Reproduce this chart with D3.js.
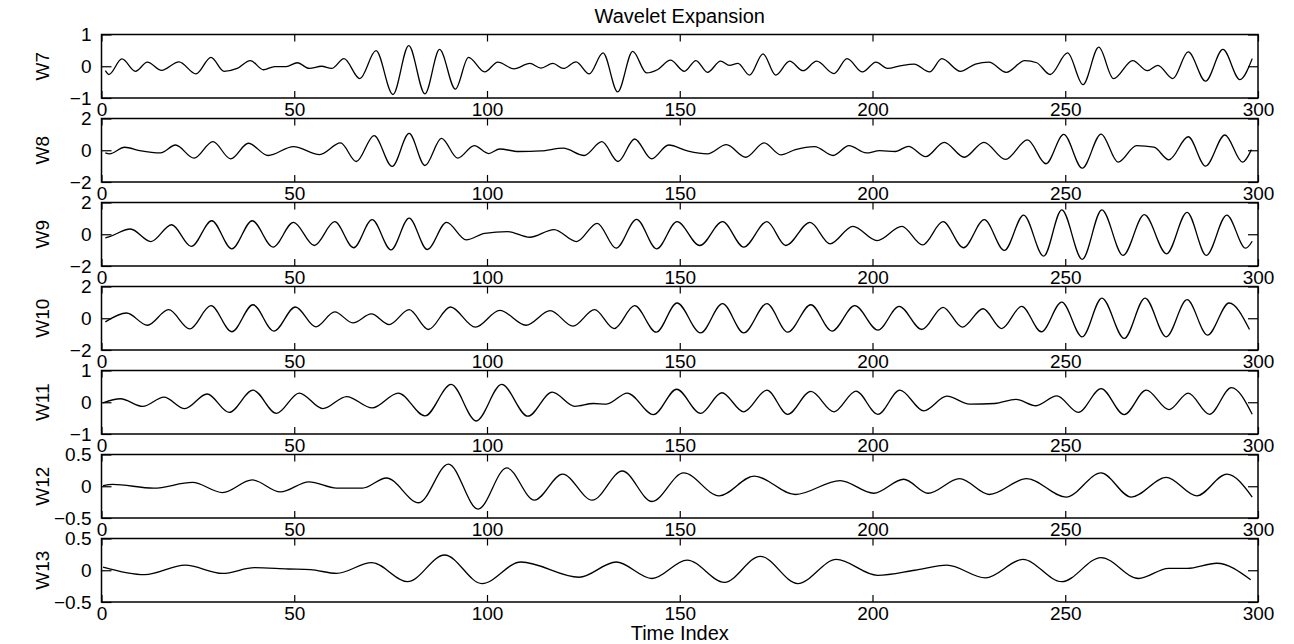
<!DOCTYPE html>
<html><head><meta charset="utf-8">
<script src="https://cdn.jsdelivr.net/npm/d3@7"></script>
<style>
body{margin:0;background:#fff}
svg{display:block}
text{font-family:"Liberation Sans",Arial,Helvetica,sans-serif;fill:#000}
</style>
</head><body>
<svg id="c" width="1294" height="644"></svg>
<script>
// ---------- data ----------
const titleText = "Wavelet Expansion";
const xLabelText = "Time Index";
const xTickVals = [0, 50, 100, 150, 200, 250, 300];
const panelNames = ["W7", "W8", "W9", "W10", "W11", "W12", "W13"];
const yDomains = [[-1, 1], [-2, 2], [-2, 2], [-2, 2], [-1, 1], [-0.5, 0.5], [-0.5, 0.5]];
const yTickVals = [[-1, 0, 1], [-2, 0, 2], [-2, 0, 2], [-2, 0, 2], [-1, 0, 1], [-0.5, 0, 0.5], [-0.5, 0, 0.5]];
const yTickLabels = [["−1", "0", "1"], ["−2", "0", "2"], ["−2", "0", "2"], ["−2", "0", "2"], ["−1", "0", "1"], ["−0.5", "0", "0.5"], ["−0.5", "0", "0.5"]];

// W7 (time index, value)
const w7t = [1.0,1.9,5.3,8.8,11.9,15.6,20.1,24.5,28.4,31.8,35.2,38.6,42.0,44.9,47.9,50.8,53.9,57.1,59.7,62.9,67.0,71.2,75.6,79.7,83.9,87.7,91.8,95.2,99.4,102.8,107.0,111.1,114.0,117.1,119.8,123.1,126.5,130.1,133.9,137.8,141.4,144.2,147.6,151.2,154.2,157.2,160.6,162.9,165.1,168.1,171.6,174.9,178.5,182.0,185.5,190.0,193.4,197.4,200.9,203.9,207.4,210.8,214.8,218.0,222.8,226.7,230.2,234.7,239.5,242.6,246.1,250.6,254.6,258.7,262.5,267.5,271.3,274.0,277.9,281.9,286.4,290.9,295.3,298.5];
const w7v = [-0.14,-0.26,0.23,-0.16,0.13,-0.13,0.14,-0.24,0.28,-0.16,-0.07,0.18,-0.11,-0.01,-0.01,0.11,-0.07,0.0,-0.07,0.24,-0.39,0.49,-0.89,0.65,-0.87,0.53,-0.72,0.28,-0.18,0.13,-0.08,0.09,-0.06,0.09,-0.07,0.14,-0.24,0.42,-0.81,0.47,-0.21,-0.11,0.19,-0.16,0.18,-0.19,0.16,0.03,0.09,-0.28,0.39,-0.28,0.16,-0.14,0.16,-0.23,0.24,-0.18,0.13,-0.07,0.02,0.07,-0.18,0.24,-0.16,0.07,0.13,-0.19,0.18,0.11,-0.26,0.42,-0.58,0.60,-0.39,0.18,-0.14,0.03,-0.39,0.45,-0.47,0.53,-0.42,0.24];

// W8
const w8t = [1.0,2.1,6.0,9.9,15.3,19.2,24.0,28.9,33.5,38.1,43.2,49.8,56.6,62.0,66.1,70.7,75.4,79.8,83.9,88.2,92.4,96.7,100.4,103.3,108.2,114.0,119.8,125.2,129.8,134.0,138.3,142.7,147.1,152.2,157.2,162.1,167.1,171.9,176.2,180.0,185.0,189.8,193.9,198.4,201.9,205.9,209.3,213.8,218.6,223.8,228.9,234.5,240.2,245.0,249.6,254.4,259.3,263.7,268.5,273.0,276.9,281.9,286.4,291.4,296.0,298.3];
const w8v = [-0.17,-0.23,0.19,-0.02,-0.17,0.33,-0.50,0.54,-0.54,0.44,-0.33,0.23,-0.27,0.46,-0.71,0.92,-1.02,1.06,-0.96,0.75,-0.50,0.29,-0.21,0.08,-0.08,-0.04,0.13,-0.33,0.54,-0.71,0.71,-0.54,0.33,-0.06,-0.23,0.35,-0.44,0.46,-0.29,0.04,0.23,-0.33,0.29,-0.17,-0.02,-0.08,0.25,-0.40,0.50,-0.44,0.50,-0.58,0.65,-0.85,1.00,-1.13,1.02,-0.75,0.29,0.19,-0.60,0.85,-1.00,0.96,-0.75,0.04];

// W9
const w9t = [1.0,2.1,7.5,12.8,18.2,23.3,28.6,33.8,39.1,44.5,49.8,55.2,60.5,65.4,70.2,75.1,79.8,84.5,89.5,94.6,99.4,105.3,111.1,117.4,123.2,128.6,133.5,138.8,144.0,149.3,155.2,161.1,166.6,172.6,177.5,183.8,189.0,194.9,201.2,207.6,213.0,218.3,223.6,229.0,234.2,239.2,244.4,249.1,254.4,259.5,265.0,270.5,276.3,281.6,286.6,291.9,296.8,298.5];
const w9v = [-0.23,-0.15,0.33,-0.46,0.60,-0.77,0.85,-0.92,0.85,-0.81,0.75,-0.71,0.79,-0.85,0.92,-0.98,1.02,-0.96,0.75,-0.35,0.06,0.17,-0.19,0.29,-0.46,0.69,-0.88,0.94,-0.92,0.80,-0.71,0.79,-0.81,0.79,-0.71,0.75,-0.60,0.50,-0.40,0.50,-0.67,0.79,-0.85,0.92,-1.02,1.21,-1.38,1.54,-1.58,1.54,-1.33,1.23,-1.23,1.38,-1.33,1.21,-0.88,-0.44];

// W10
const w10t = [1.0,6.5,11.9,17.4,22.9,28.4,33.8,39.3,44.7,50.3,55.6,60.5,65.2,70.0,74.6,79.8,84.8,90.5,97.0,103.3,110.1,116.4,122.3,127.9,133.0,138.3,143.9,149.3,155.4,161.1,166.6,172.6,178.0,184.0,189.5,195.4,201.4,206.9,212.8,218.3,223.3,228.7,233.5,238.7,243.8,249.1,254.4,259.5,265.3,270.7,276.2,281.6,286.9,292.5,297.8];
const w10v = [-0.23,0.33,-0.44,0.54,-0.67,0.79,-0.85,0.85,-0.81,0.71,-0.54,0.40,-0.29,0.27,-0.40,0.54,-0.71,0.71,-0.56,0.50,-0.44,0.48,-0.50,0.54,-0.65,0.79,-0.88,0.96,-0.92,0.92,-0.92,0.92,-0.88,0.85,-0.81,0.79,-0.75,0.75,-0.71,0.69,-0.56,0.60,-0.65,0.75,-0.85,1.02,-1.17,1.27,-1.27,1.27,-1.17,1.17,-1.06,0.96,-0.71];

// W11
const w11t = [0.4,4.9,10.7,16.2,21.6,27.4,33.1,39.3,45.4,51.3,57.4,63.6,70.2,77.0,83.9,90.7,97.2,103.8,110.6,116.9,122.8,127.6,131.0,136.4,143.2,149.2,155.4,160.9,166.6,172.6,178.0,184.0,190.0,195.7,201.4,207.1,213.3,219.3,225.2,231.7,237.2,242.4,247.8,253.4,259.3,265.3,271.0,276.9,281.9,287.4,293.1,298.5];
const w11v = [-0.02,0.11,-0.13,0.16,-0.20,0.26,-0.32,0.38,-0.35,0.29,-0.20,0.18,-0.18,0.29,-0.43,0.56,-0.59,0.56,-0.44,0.32,-0.13,-0.04,-0.06,0.29,-0.39,0.41,-0.35,0.30,-0.30,0.38,-0.38,0.34,-0.30,0.35,-0.38,0.38,-0.27,0.19,-0.06,-0.04,0.09,-0.11,0.20,-0.32,0.43,-0.39,0.38,-0.23,0.29,-0.38,0.46,-0.38];

// W12
const w12t = [0.4,2.9,13.5,23.6,31.4,39.1,46.4,53.8,61.0,67.7,73.9,82.3,90.0,97.7,105.1,112.3,119.6,127.3,135.1,142.8,151.0,160.2,169.3,180.0,191.6,200.3,208.1,214.4,222.6,230.3,240.0,250.2,259.3,267.1,276.2,284.1,291.9,298.5];
const w12v = [0.01,0.03,-0.03,0.06,-0.10,0.10,-0.09,0.07,-0.03,-0.03,0.13,-0.26,0.35,-0.36,0.29,-0.22,0.19,-0.22,0.24,-0.24,0.21,-0.15,0.16,-0.13,0.09,-0.11,0.11,-0.11,0.12,-0.13,0.12,-0.17,0.21,-0.17,0.14,-0.15,0.19,-0.17];

// W13
const w13t = [0.4,11.2,21.7,31.4,39.7,48.4,54.2,61.0,70.1,79.4,89.0,98.7,108.8,123.9,133.5,142.8,151.9,161.6,170.9,180.6,190.6,201.3,211.0,219.3,229.3,239.0,249.1,259.3,269.0,276.8,281.6,289.3,298.1];
const w13v = [0.05,-0.07,0.08,-0.05,0.04,0.02,0.01,-0.05,0.12,-0.18,0.24,-0.21,0.13,-0.11,0.13,-0.13,0.16,-0.19,0.22,-0.21,0.17,-0.08,0.0,0.08,-0.12,0.17,-0.18,0.20,-0.13,0.03,0.03,0.11,-0.15];

const seriesT = [w7t, w8t, w9t, w10t, w11t, w12t, w13t];
const seriesV = [w7v, w8v, w9v, w10v, w11v, w12v, w13v];

// ---------- layout ----------
const FS = 19, FS_T = 20;
const FONT = "'Liberation Sans', Arial, Helvetica, sans-serif";
const svg = d3.select("#c");
const left = 101.5, right = 1258;
const firstTop = 34.5, step = 84, ph = 63.5;
const x = d3.scaleLinear().domain([0, 300]).range([left, right]);

svg.append("rect").attr("width", 1294).attr("height", 644).attr("fill", "#fff");

panelNames.forEach((name, i) => {
  const top = firstTop + step * i, bot = top + ph;
  const y = d3.scaleLinear().domain(yDomains[i]).range([bot, top]);
  const g = svg.append("g");

  const gb = g.append("g").attr("transform", `translate(0,${bot})`)
    .call(d3.axisBottom(x).tickValues(xTickVals).tickSize(-7).tickPadding(5).tickFormat(d3.format("d")));
  const gt = g.append("g").attr("transform", `translate(0,${top})`)
    .call(d3.axisTop(x).tickValues(xTickVals).tickSize(-7).tickFormat(""));
  const gl = g.append("g").attr("transform", `translate(${left},0)`)
    .call(d3.axisLeft(y).tickValues(yTickVals[i]).tickSize(-10).tickPadding(10)
      .tickFormat((d, j) => yTickLabels[i][j]));
  const gr = g.append("g").attr("transform", `translate(${right},0)`)
    .call(d3.axisRight(y).tickValues(yTickVals[i]).tickSize(-10).tickFormat(""));

  [gb, gt, gl, gr].forEach(a => {
    a.select(".domain").remove();
    a.selectAll("line").attr("stroke", "#000").attr("stroke-width", 1.2);
    a.selectAll("text").attr("font-size", FS).attr("fill", "#000").attr("font-family", FONT);
  });

  g.append("rect").attr("x", left).attr("y", top).attr("width", right - left).attr("height", ph)
    .attr("fill", "none").attr("stroke", "#000").attr("stroke-width", 1.5);

  const pts = seriesT[i].map((t, k) => [t, seriesV[i][k]]);
  const line = d3.line().x(d => x(d[0])).y(d => y(d[1])).curve(d3.curveMonotoneX);
  g.append("path").attr("d", line(pts)).attr("fill", "none").attr("stroke", "#000").attr("stroke-width", 1.3);

  g.append("text").attr("transform", `translate(49,${(top + bot) / 2}) rotate(-90)`)
    .attr("text-anchor", "middle").attr("font-size", FS).attr("font-family", FONT).text(name);
});

svg.append("text").attr("x", (left + right) / 2).attr("y", 23).attr("text-anchor", "middle")
  .attr("font-size", FS_T).attr("font-family", FONT).text(titleText);
svg.append("text").attr("x", (left + right) / 2).attr("y", 640).attr("text-anchor", "middle")
  .attr("font-size", FS_T).attr("font-family", FONT).text(xLabelText);
</script>
</body></html>
